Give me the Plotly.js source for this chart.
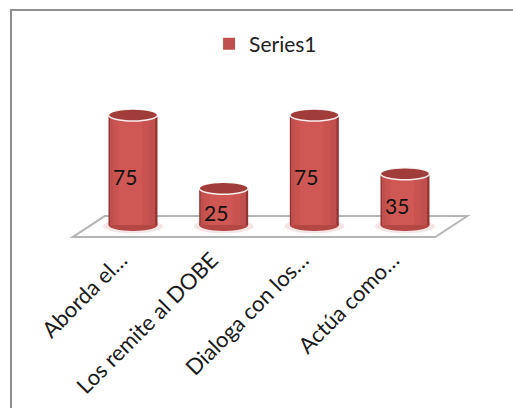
<!DOCTYPE html>
<html>
<head>
<meta charset="utf-8">
<script src="https://cdn.plot.ly/plotly-3.0.1.min.js"></script>
<style>
  html, body { margin: 0; padding: 0; background: #fff; overflow: hidden; }
  #chart { width: 513px; height: 408px; position: absolute; left: 0; top: 0; }
  #frame { position: absolute; left: 10px; top: 9px; width: 700px; height: 600px;
           border: 2px solid #8E8E8E; pointer-events: none; }
</style>
</head>
<body>
<div id="chart"></div>
<div id="frame"></div>
<script>
// ---- data ----
const categories = ["Aborda el\u2026", "Los remite al DOBE", "Dialoga con los\u2026", "Actúa como\u2026"];
const values = [75, 25, 75, 35];
const seriesName = "Series1";

// ---- styling ----
const FONT = "Lato, 'Open Sans', sans-serif";
const xs = categories.map((_, i) => i);
const BAR_W = 0.54;
const ELL_H = 4.1; // half-height of ellipse in y units

function layer(w, color, shift, showlegend) {
  return {
    type: "bar", x: xs, y: values, name: seriesName,
    width: w, offset: -w / 2 + shift,
    marker: { color: color, line: { width: 0 } },
    showlegend: !!showlegend, hoverinfo: "skip"
  };
}

const traces = [
  layer(BAR_W, "#933230", 0, false),
  layer(0.50, "#C0504D", -0.005, true),
  layer(0.40, "#C8534F", -0.02, false),
  layer(0.26, "#CF5855", -0.03, false)
];

const shapes = [];
// floor
shapes.push({
  type: "path", xref: "x", yref: "y", layer: "below",
  path: "M -0.666 -8.2 L -0.312 6.1 L 3.688 6.1 L 3.334 -8.2 Z",
  fillcolor: "#FFFFFF", line: { color: "#B5B5B5", width: 2 }
});
// shadows and bottom ellipses
xs.forEach((x, i) => {
  shapes.push({
    type: "circle", xref: "x", yref: "y", layer: "below",
    x0: x - BAR_W / 2 - 0.06, x1: x + BAR_W / 2 + 0.06, y0: -ELL_H - 1.5, y1: ELL_H,
    fillcolor: "rgba(192,80,77,0.15)", line: { width: 0 }
  });
  shapes.push({
    type: "circle", xref: "x", yref: "y", layer: "below",
    x0: x - BAR_W / 2, x1: x + BAR_W / 2, y0: -ELL_H, y1: ELL_H,
    fillcolor: "#B34744", line: { width: 0 }
  });
});
// top ellipses
xs.forEach((x, i) => {
  shapes.push({
    type: "circle", xref: "x", yref: "y", layer: "above",
    x0: x - BAR_W / 2, x1: x + BAR_W / 2, y0: values[i] - ELL_H, y1: values[i] + ELL_H,
    fillcolor: "#A03C39", line: { color: "rgba(255,255,255,0.9)", width: 1.5 }
  });
});

const annotations = xs.map((x, i) => ({
  x: x, y: values[i] / 2, xref: "x", yref: "y",
  text: String(values[i]), showarrow: false,
  xshift: -8, yshift: -6,
  font: { family: FONT, size: 21, color: "#111" }
}));

const layout = {
  width: 513, height: 408,
  margin: { l: 65.4, r: 40.35, t: 100, b: 168 },
  paper_bgcolor: "#fff", plot_bgcolor: "rgba(0,0,0,0)",
  barmode: "overlay",
  showlegend: true,
  legend: {
    orientation: "h", x: 0.4916, xanchor: "center", y: 1.4, yanchor: "middle",
    font: { family: FONT, size: 21, color: "#222" }, bgcolor: "rgba(0,0,0,0)"
  },
  xaxis: {
    type: "linear", range: [-0.75, 3.75], tickvals: xs, ticktext: categories,
    tickangle: -45, showgrid: false, zeroline: false, showline: false, ticks: "",
    ticklabelshift: -12, ticklabelstandoff: 2,
    tickfont: { family: FONT, size: 22, color: "#1A1A1A" }, fixedrange: true
  },
  yaxis: { range: [-10.2, 85.2], visible: false, showgrid: false, zeroline: false, fixedrange: true },
  shapes: shapes,
  annotations: annotations
};

Plotly.newPlot("chart", traces, layout, { displayModeBar: false, staticPlot: true });
</script>
</body>
</html>
